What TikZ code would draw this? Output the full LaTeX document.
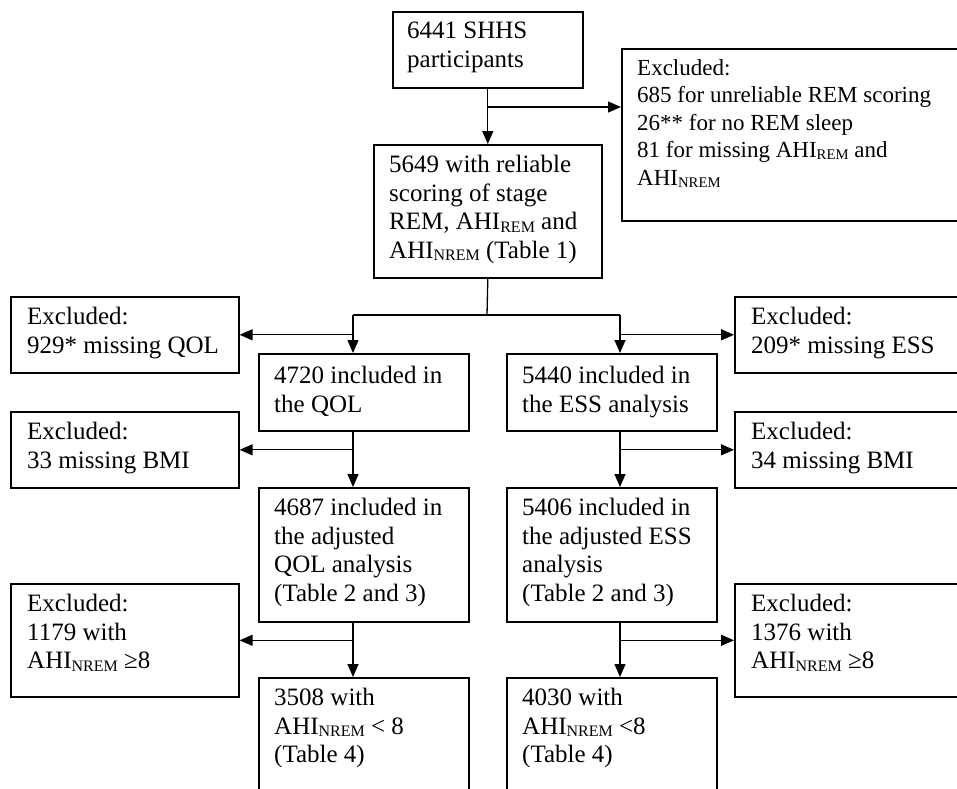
\documentclass[tikz,border=0pt]{standalone}
\usepackage{fontspec}
\setmainfont{Liberation Serif}
\usetikzlibrary{arrows.meta,calc}
\newcommand{\lsub}[1]{\raisebox{-0.1em}{\scalebox{0.64}{#1}}}
\tikzset{
  box/.style={draw, line width=1.6pt, inner sep=0pt, anchor=north west},
  txt/.style={anchor=north west, inner sep=0pt, align=left,
    font=\fontsize{25}{28.5}\selectfont, execute at begin node=\strut},
  txtsmall/.style={txt, font=\fontsize{23}{27.5}\selectfont},
  ln/.style={line width=1.3pt},
  arr/.style={line width=1.3pt, -{Triangle[length=13pt,width=11pt]}},
}
% \mybox{name}{x1}{y1}{x2}{y2}
\newcommand{\mybox}[5]{%
  \node[box, minimum width={(#4-#2)*1pt}, minimum height={(#5-#3)*1pt}] (#1) at (#2,#3) {};}
\begin{document}
\begin{tikzpicture}[x=1pt,y=-1pt]
\clip (0,0) rectangle (957,788);
\fill[white] (0,0) rectangle (957,788);
% boxes
\mybox{b1}{392}{11}{582}{87}
\mybox{ex1}{621}{48}{975}{220}
\mybox{b2}{373}{144}{601}{277}
\mybox{exQ}{10}{296}{238}{372}
\mybox{exE}{734}{296}{975}{372}
\mybox{bQ}{258}{353}{468}{430}
\mybox{bE}{506}{353}{716}{430}
\mybox{exB1}{10}{411}{238}{487}
\mybox{exB2}{734}{411}{975}{487}
\mybox{bQa}{258}{487}{468}{621}
\mybox{bEa}{506}{487}{716}{621}
\mybox{exN1}{10}{583}{238}{696}
\mybox{exN2}{734}{583}{975}{696}
\mybox{bQn}{258}{677}{468}{820}
\mybox{bEn}{506}{677}{716}{820}
% texts
\node[txt] (t1) at ($(b1.north west)+(15,11)$) {6441 SHHS\\participants};
\node[txtsmall] (tex1) at ($(ex1.north west)+(16,11)$) {Excluded:\\685 for unreliable REM scoring\\26** for no REM sleep\\81 for missing AHI\lsub{REM} and\\AHI\lsub{NREM}};
\node[txt] (t2) at ($(b2.north west)+(16,11)$) {5649 with reliable\\scoring of stage\\REM, AHI\lsub{REM} and\\AHI\lsub{NREM} (Table 1)};
\node[txt] (texQ) at ($(exQ.north west)+(17,11)$) {Excluded:\\929* missing QOL};
\node[txt] (texE) at ($(exE.north west)+(17,11)$) {Excluded:\\209* missing ESS};
\node[txt] (tbQ) at ($(bQ.north west)+(16,13)$) {4720 included in\\the QOL};
\node[txt] (tbE) at ($(bE.north west)+(16,13)$) {5440 included in\\the ESS analysis};
\node[txt] (texB1) at ($(exB1.north west)+(17,11)$) {Excluded:\\33 missing BMI};
\node[txt] (texB2) at ($(exB2.north west)+(17,11)$) {Excluded:\\34 missing BMI};
\node[txt] (tbQa) at ($(bQa.north west)+(16,11)$) {4687 included in\\the adjusted\\QOL analysis\\(Table 2 and 3)};
\node[txt] (tbEa) at ($(bEa.north west)+(16,11)$) {5406 included in\\the adjusted ESS\\analysis\\(Table 2 and 3)};
\node[txt] (texN1) at ($(exN1.north west)+(17,11)$) {Excluded:\\1179 with\\AHI\lsub{NREM} ≥8};
\node[txt] (texN2) at ($(exN2.north west)+(17,11)$) {Excluded:\\1376 with\\AHI\lsub{NREM} ≥8};
\node[txt] (tbQn) at ($(bQn.north west)+(16,11)$) {3508 with\\AHI\lsub{NREM} < 8\\(Table 4)};
\node[txt] (tbEn) at ($(bEn.north west)+(16,11)$) {4030 with\\AHI\lsub{NREM} <8\\(Table 4)};
% connectors
\coordinate (j0) at (487,107);
\coordinate (j1) at (487,315);
\coordinate (jL) at (353,315);
\coordinate (jR) at (620,315);
\draw[arr] (b1.south) -- (b2.north);
\draw[arr] (j0) -- (j0 -| ex1.west);
\draw[ln] (b2.south) -- (j1);
\draw[ln] (jL) -- (jR);
\draw[arr] (jL) -- (jL |- bQ.north);
\draw[arr] (jR) -- (jR |- bE.north);
\draw[arr] (jL |- exQ.east) -- (exQ.east);
\draw[arr] (jR |- exE.west) -- (exE.west);
\draw[arr] (jL |- bQ.south) -- (jL |- bQa.north);
\draw[arr] (jR |- bE.south) -- (jR |- bEa.north);
\draw[arr] (jL |- exB1.east) -- (exB1.east);
\draw[arr] (jR |- exB2.west) -- (exB2.west);
\draw[arr] (jL |- bQa.south) -- (jL |- bQn.north);
\draw[arr] (jR |- bEa.south) -- (jR |- bEn.north);
\draw[arr] (jL |- exN1.east) -- (exN1.east);
\draw[arr] (jR |- exN2.west) -- (exN2.west);
\end{tikzpicture}
\end{document}
